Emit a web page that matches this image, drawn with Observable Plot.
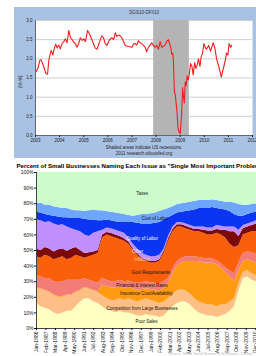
<!DOCTYPE html>
<html><head><meta charset="utf-8">
<script src="https://cdn.jsdelivr.net/npm/d3@7"></script>
<script src="https://cdn.jsdelivr.net/npm/@observablehq/plot@0.6"></script>
<style>
html,body{margin:0;padding:0;background:#fff;}
body{width:256px;height:356px;overflow:hidden;position:relative;font-family:"Liberation Sans",Arial,sans-serif;}
#top{position:absolute;left:14px;top:7px;}
#bottom{position:absolute;left:0;top:158px;}
svg{display:block;}
</style></head><body>
<div id="top"></div><div id="bottom"></div>
<script>
// ---------- Top chart: DGS10-DFII10 ----------
const topTitle = "DGS10-DFII10";
const topYLabel = "(%-%)";
const captionLine1 = "Shaded areas indicate US recessions.";
const captionLine2 = "2011 research.stlouisfed.org";
const yearTicks = [2003, 2004, 2005, 2006, 2007, 2008, 2009, 2010, 2011, 2012];
const beTicks = [0, 0.5, 1, 1.5, 2, 2.5, 3];
const recessions = [{start: 2007.9, end: 2009.38}];
const beYears = [
  2003.00,2003.10,2003.18,2003.23,2003.34,2003.43,2003.50,2003.55,2003.59,2003.65,2003.72,2003.79,2003.84,2003.90,2003.96,
  2004.03,2004.10,2004.17,2004.24,2004.31,2004.38,2004.45,2004.52,2004.58,2004.65,2004.72,2004.79,2004.86,2004.93,
  2005.00,2005.07,2005.16,2005.24,2005.34,2005.41,2005.48,2005.55,2005.66,2005.75,2005.82,2005.89,2005.96,
  2006.07,2006.17,2006.24,2006.31,2006.37,2006.44,2006.51,2006.58,2006.65,2006.72,2006.86,
  2007.00,2007.06,2007.13,2007.20,2007.27,2007.34,2007.41,2007.48,2007.55,2007.61,2007.68,2007.75,2007.82,2007.89,2007.96,
  2008.03,2008.10,2008.17,2008.24,2008.30,2008.37,2008.44,2008.51,2008.55,2008.61,2008.65,2008.69,2008.72,2008.76,2008.80,2008.84,2008.87,2008.91,2008.95,
  2009.00,2009.03,2009.06,2009.10,2009.14,2009.17,2009.21,2009.25,2009.29,2009.33,2009.38,2009.43,2009.49,2009.54,2009.60,2009.65,2009.71,2009.76,2009.82,2009.87,2009.93,2009.98,
  2010.04,2010.09,2010.18,2010.26,2010.31,2010.37,2010.44,2010.51,2010.58,2010.64,2010.71,2010.75,2010.81,2010.87,2010.92,2010.98,2011.03,2011.09,2011.14
];
const beValues = [
  1.65,1.75,1.96,1.98,1.80,1.62,1.60,1.95,2.08,2.22,2.10,2.30,2.38,2.28,2.36,
  2.26,2.40,2.45,2.52,2.42,2.74,2.55,2.50,2.44,2.40,2.30,2.40,2.55,2.48,
  2.52,2.45,2.74,2.65,2.50,2.38,2.28,2.25,2.45,2.60,2.55,2.40,2.35,
  2.50,2.55,2.50,2.68,2.58,2.62,2.60,2.55,2.45,2.35,2.32,
  2.30,2.38,2.40,2.36,2.47,2.42,2.40,2.35,2.30,2.18,2.30,2.35,2.42,2.35,2.30,
  2.35,2.25,2.45,2.30,2.32,2.36,2.45,2.50,2.42,2.30,2.12,2.15,1.95,1.15,1.05,0.80,0.60,0.20,0.10,
  0.05,0.30,0.55,1.25,1.00,0.85,1.40,1.30,1.55,1.45,1.60,1.88,1.80,1.58,1.90,1.75,1.85,2.00,1.80,2.05,2.15,2.40,
  2.30,2.25,2.35,2.20,2.30,2.42,2.28,2.00,1.85,1.70,1.52,1.65,1.80,1.95,2.15,2.10,2.40,2.30,2.35
];

// ---------- Bottom chart: NFIB single most important problem ----------
const bottomTitle = 'Percent of Small Businesses Naming Each Issue as "Single Most Important Problem"';
const sourceNote = "Source: NFIB Small Business Economic Trends";
const categories = ["Poor Sales","Competition from Large Businesses","Insurance Cost/Availability","Financial & Interest Rates","Govt Requirements","Inflation","Other","Quality of Labor","Cost of Labor","Taxes"];
const colors = ["#ffffc2","#fdbf85","#ff9a12","#f47c78","#fa5f0a","#7d0a0a","#c08fff","#0b35f2","#6ea6ff","#ccfccc"];
const surveyDates = ["1986-01","1986-07","1987-01","1987-07","1988-01","1988-07","1989-01","1989-07","1990-01","1990-07",
  "1991-01","1991-07","1992-01","1992-07","1993-01","1993-07","1994-01","1994-07","1995-01","1995-07",
  "1996-01","1996-07","1997-01","1997-07","1998-01","1998-07","1999-01","1999-07","2000-01","2000-07",
  "2001-01","2001-07","2002-01","2002-07","2003-01","2003-07","2004-01","2004-07","2005-01","2005-07",
  "2006-01","2006-07","2007-01","2007-07","2008-01","2008-07","2009-01","2009-07","2010-01","2010-07","2011-01"];
const poorSales   = [16,14,13,12,10,9,10,11,11,14, 17,19,19,17,16,14,12,11,10,11, 10,10,9,8,8,9,8,8,7,8, 11,14,16,17,17,15,12,10,9,8, 8,7,8,9,11,14,24,32,33,31,30];
const competition = [10,11,11,11,11,11,10,10,10,9, 7,7,6,7,7,7,7,7,8,8, 8,9,9,9,10,10,10,9,9,9, 8,8,8,8,7,7,7,7,7,7, 7,7,7,6,6,5,5,4,4,4,4];
const insurance   = [0.5,0.5,0.5,0.5,0.5,0.5,0.5,0.5,0.5,0.5, 0.5,0.5,0.5,0.5,0.5,7,8,8,8,8, 8,7.5,7.5,7.5,7,6.5,7,7.5,8,9, 10,13,16,17,19,21,24,26,26,27, 27,27,24,21,16,11,8,7,7,8,8];
const financial   = [7.5,7.5,7.5,8.5,8.5,9,9.5,9.5,9.5,7.5, 6.5,5.5,5.5,5.5,5.5,4,4,4,4,4, 4,4,4,4.5,4.5,4.5,4.5,4.5,4.5,4, 3,3,3,3,3,3,3,2.5,3,2.5, 2.5,2.5,2.5,3,4,5,5,5,5,5.5,5.5];
const govtReq     = [12,12,15,14,14,15.5,16,13,14,16, 15,13,15,17,19,26,29,29,28,26, 26,23.5,20.5,18,14.5,13,12.5,13,14.5,18, 24,24,22,20,18,17,16,16.5,16,15.5, 15.5,17.5,18.5,19,17,17,11,12,12,13.5,14.5];
const inflation   = [5,5,5,5,5,5.5,5,5.5,6,5, 4,3,2.5,2,2,2,1.5,2,2,2, 1.5,1.5,1,1,1,1,1,1,1,1.5, 1.5,1.5,1.5,1.5,1.5,1.5,1.5,1.5,2,2.5, 2.5,2.5,3,5,8,10,6,4,4,4,5];
const other       = [18.5,19,16,17.5,18,15.5,15.5,15.5,13,11, 12,12,10.5,12,12,3,3,3,3,3, 3.5,2.5,3,3,3,3,3,3,3,1.5, 1.5,1.5,1.5,1.5,1.5,1.5,1.5,1.5,2,2, 2,2.5,2.5,2,3,3,4,2,2,2,2];
const qualityLab  = [5,5,5,4,5,5.5,4.5,6,6.5,7.5, 8.5,10,10.5,8.5,7,6,5,5,5.5,6, 7,10,14,16.5,19,20,21,21.5,21,18.5, 12,7.5,6,6.5,8,9.5,11,12,12,12.5, 13,11,11,11,10,8,9,6,6,6,5.5];
const costLabor   = [5.5,6.5,6,6.5,6,6,6,6,5.5,5, 5,5,6,6.5,6.5,6.5,5.5,5.5,5.5,5.5, 5,4.5,4,5,6,6,6.5,6.5,7,6.5, 6,5.5,5.5,5.5,5.5,5.5,5.5,5,5,5, 5,5,5,5,6,7.5,7.5,7,6,5.5,5.5];
const taxes       = [20,19.5,21,21,22,22.5,23,23,24,24.5, 24.5,25,24.5,24,24.5,24.5,25,25.5,26,26.5, 27,27.5,28,27.5,27,27,26.5,26,25,24, 23,22,20.5,20,19.5,19,18.5,18,18,18, 17.5,18,18.5,19,19,19.5,20.5,21,21,20.5,20];
const seriesValues = [poorSales, competition, insurance, financial, govtReq, inflation, other, qualityLab, costLabor, taxes];
const pctTicks = [0,10,20,30,40,50,60,70,80,90,100];
const xTickLabels = ["Jan-1986","Feb-1987","Mar-1988","Apr-1989","May-1990","Jun-1991","Jul-1992","Aug-1993","Sep-1994","Oct-1995","Nov-1996","Dec-1997",
  "Jan-1999","Feb-2000","Mar-2001","Apr-2002","May-2003","Jun-2004","Jul-2005","Aug-2006","Sep-2007","Oct-2008","Nov-2009","Dec-2010"];
// in-chart labels: survey date at which each category label sits, text colour
const labelDates  = ["1998-07","1998-01","1998-07","1998-01","1999-01","1998-01","1997-07","1998-01","1999-07","1998-01"];
const labelColors = ["#111","#111","#111","#111","#111","#ffd2a0","#f4eeff","#ffffff","#111","#111"];

const font = "Liberation Sans, Arial, sans-serif";

// ---------- draw top ----------
const beData = beYears.map((t, i) => ({t, v: beValues[i]}));
const topPlot = Plot.plot({
  width: 242, height: 151,
  marginLeft: 21, marginRight: 4, marginTop: 13, marginBottom: 23,
  style: {background: "#a9c2e4", fontFamily: font, fontSize: "4.5px", color: "#222"},
  x: {domain: [2003, 2012]},
  y: {domain: [0, 3]},
  marks: [
    Plot.frame({fill: "white"}),
    Plot.gridY(beTicks, {stroke: "#cfcfcf", strokeOpacity: 1}),
    Plot.rect(recessions, {x1: "start", x2: "end", fill: "#b4b4b4"}),
    Plot.line(beData, {x: "t", y: "v", stroke: "#f21d1d", strokeWidth: 1.1}),
    Plot.ruleY([0], {stroke: "#666"}),
    Plot.ruleX([yearTicks[0]], {stroke: "#666"}),
    Plot.axisX({ticks: yearTicks, tickFormat: d3.format("d"), tickSize: 2, tickPadding: 1, fontSize: 4.5, label: null}),
    Plot.axisY({ticks: beTicks, tickFormat: d3.format(".1f"), tickSize: 0, tickPadding: 3, fontSize: 4.5, label: null}),
    Plot.text([topTitle], {frameAnchor: "top", dy: -10, fontSize: 4.5, fill: "#333"}),
    Plot.text([topYLabel], {frameAnchor: "left", dx: -15, dy: 10, rotate: -90, fontSize: 4.5, fill: "#222"}),
    Plot.text([captionLine1], {frameAnchor: "bottom", dy: 13, fontSize: 4.5, fill: "#222"}),
    Plot.text([captionLine2], {frameAnchor: "bottom", dy: 19, fontSize: 4.5, fill: "#222"})
  ]
});
document.getElementById("top").appendChild(topPlot);

// ---------- draw bottom ----------
const parseMonth = d3.utcParse("%Y-%m");
const rows = surveyDates.flatMap((d, i) => categories.map((c, j) => ({date: parseMonth(d), key: d, cat: c, value: seriesValues[j][i]})));
const tickDates = xTickLabels.map(d3.utcParse("%b-%Y"));
const labelMarks = categories.map((c, i) =>
  Plot.text(rows.filter(r => r.key === labelDates[i]), Plot.stackY({
    x: "date", y: "value", z: "cat", order: categories,
    text: r => r.cat === c ? c : "",
    fill: labelColors[i], fontSize: 4.5, fontFamily: font
  }))
);
const bottomPlot = Plot.plot({
  width: 256, height: 198,
  marginLeft: 36, marginRight: 0, marginTop: 14, marginBottom: 28,
  style: {background: "white", fontFamily: font, fontSize: "5px", color: "#111"},
  x: {type: "utc", domain: [parseMonth(surveyDates[0]), parseMonth(surveyDates[surveyDates.length - 1])]},
  y: {domain: [0, 100]},
  color: {domain: categories, range: colors},
  marks: [
    Plot.areaY(rows, {x: "date", y: "value", fill: "cat", order: categories}),
    Plot.ruleY([0], {stroke: "#444"}),
    Plot.ruleX([parseMonth(surveyDates[0])], {stroke: "#444"}),
    Plot.axisY({ticks: pctTicks, tickFormat: d => d + "%", tickSize: 2, tickPadding: 1, fontSize: 5, label: null}),
    Plot.axisX({ticks: tickDates, tickFormat: d3.utcFormat("%b-%Y"), tickRotate: -90, tickSize: 2, tickPadding: 1, fontSize: 5, label: null}),
    ...labelMarks,
    Plot.text([bottomTitle], {frameAnchor: "top-left", dx: -20, dy: -9, textAnchor: "start", fontWeight: "bold", fontSize: 6.1, fill: "#000"}),
    Plot.text([sourceNote], {frameAnchor: "bottom-right", dy: 26, dx: -4, textAnchor: "end", fontSize: 4, fill: "#bbb"})
  ]
});
document.getElementById("bottom").appendChild(bottomPlot);
</script></body></html>
